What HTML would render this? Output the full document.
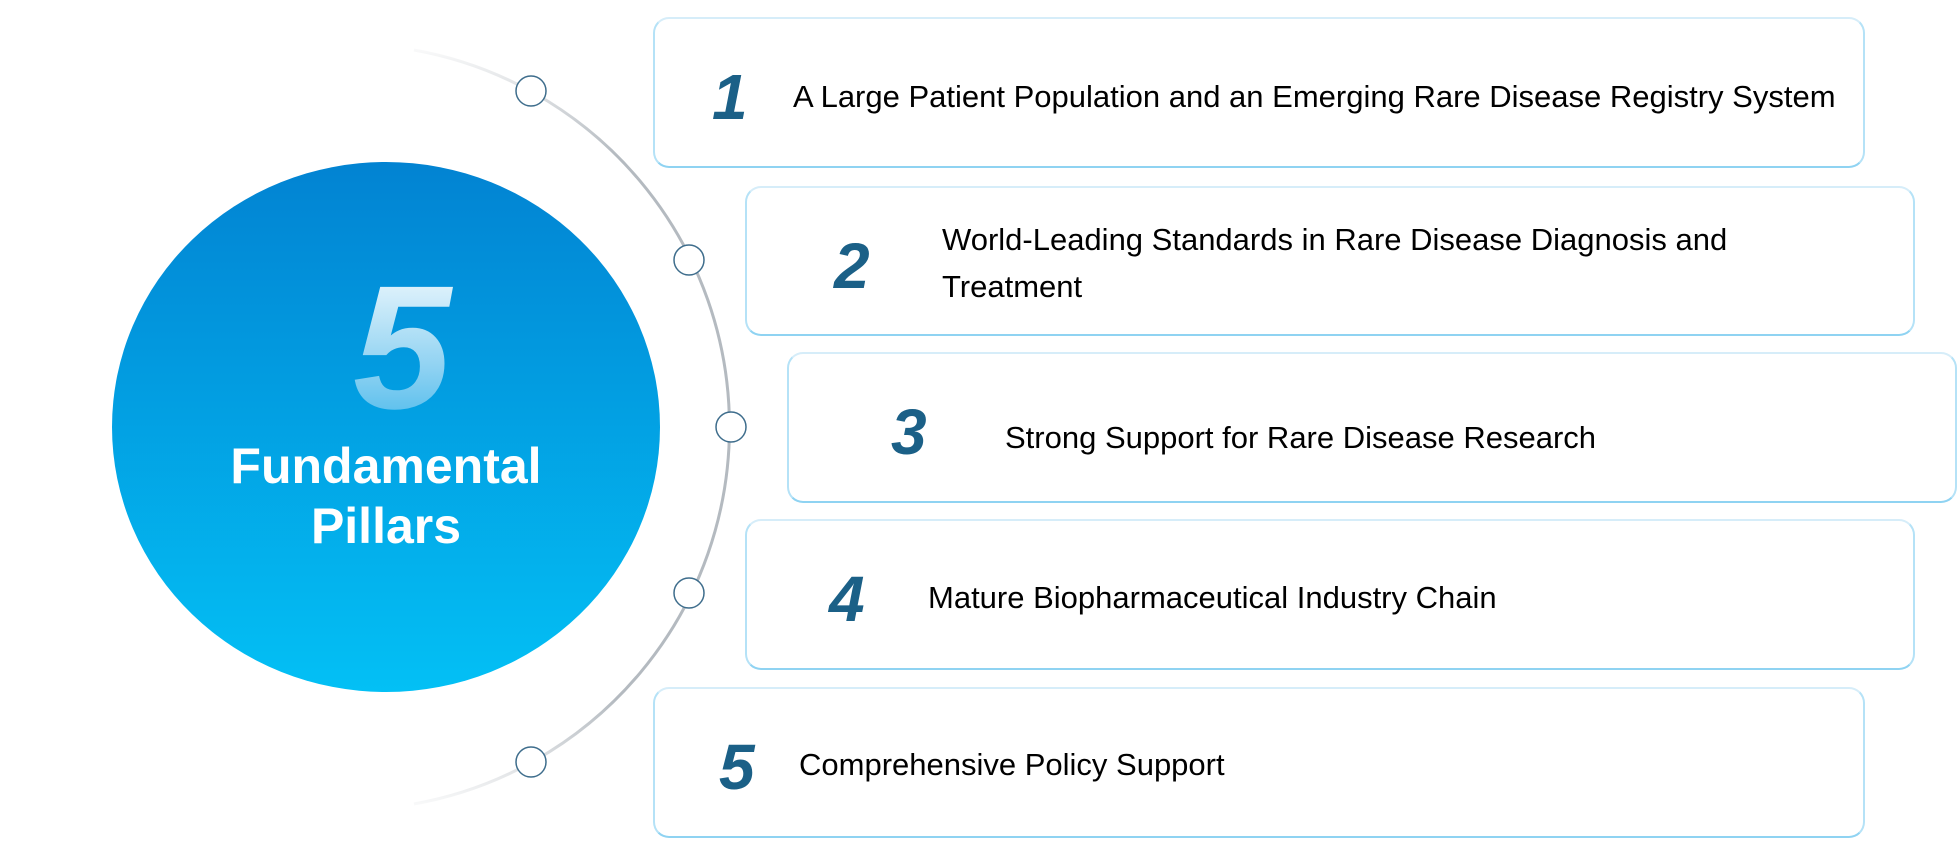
<!DOCTYPE html>
<html><head><meta charset="utf-8"><style>
body{margin:0;width:1958px;height:854px;background:#fff;position:relative;overflow:hidden;font-family:"Liberation Sans",sans-serif}
.box{position:absolute;box-sizing:border-box;border:2px solid #d6edf9;border-bottom-color:#8fd3f2;border-left-color:#b5e2f7;border-right-color:#b5e2f7;border-radius:16px;background:#fff}
.num{position:absolute;font-weight:bold;font-style:italic;color:#1b6087;font-size:64px;line-height:1}
.txt{position:absolute;font-size:31px;color:#000;line-height:47px;white-space:nowrap}
</style></head><body>
<svg width="1958" height="854" style="position:absolute;left:0;top:0">
<defs>
<linearGradient id="g" x1="0" y1="0" x2="0" y2="1"><stop offset="0" stop-color="#0283d2"/><stop offset="1" stop-color="#03c0f5"/></linearGradient>
<linearGradient id="f" x1="0" y1="0" x2="0" y2="1"><stop offset="0" stop-color="#fff"/><stop offset="0.6" stop-color="#8fd2f2"/><stop offset="1" stop-color="#3ab4ea"/></linearGradient>
<linearGradient id="a" gradientUnits="userSpaceOnUse" x1="0" y1="40" x2="0" y2="815"><stop offset="0" stop-color="#b4bac0" stop-opacity="0"/><stop offset="0.15" stop-color="#b4bac0"/><stop offset="0.85" stop-color="#b4bac0"/><stop offset="1" stop-color="#b4bac0" stop-opacity="0"/></linearGradient>
</defs>
<ellipse cx="386" cy="427" rx="274" ry="265" fill="url(#g)"/>
<path d="M 414 50 A 383 383 0 0 1 414 804" fill="none" stroke="url(#a)" stroke-width="3"/>
<g fill="#fff" stroke="#3e6d8c" stroke-width="1.5">
<circle cx="531" cy="91" r="15"/><circle cx="689" cy="260" r="15"/><circle cx="731" cy="427" r="15"/><circle cx="689" cy="593" r="15"/><circle cx="531" cy="762" r="15"/>
</g>
<text x="402" y="408" font-family="Liberation Sans" font-weight="bold" font-style="italic" font-size="176" fill="url(#f)" text-anchor="middle">5</text>
<text x="386" y="483" font-family="Liberation Sans" font-weight="bold" font-size="50" fill="#fff" text-anchor="middle">Fundamental</text>
<text x="386" y="543" font-family="Liberation Sans" font-weight="bold" font-size="50" fill="#fff" text-anchor="middle">Pillars</text>
</svg>
<div class="box" style="left:653px;top:17px;width:1212px;height:151px"></div>
<div class="num" style="left:712px;top:65px">1</div>
<div class="txt" style="left:793px;top:73px">A Large Patient Population and an Emerging Rare Disease Registry System</div>
<div class="box" style="left:745px;top:186px;width:1170px;height:150px"></div>
<div class="num" style="left:834px;top:234px">2</div>
<div class="txt" style="left:942px;top:216px">World-Leading Standards in Rare Disease Diagnosis and<br>Treatment</div>
<div class="box" style="left:787px;top:352px;width:1170px;height:151px"></div>
<div class="num" style="left:891px;top:400px">3</div>
<div class="txt" style="left:1005px;top:414px">Strong Support for Rare Disease Research</div>
<div class="box" style="left:745px;top:519px;width:1170px;height:151px"></div>
<div class="num" style="left:829px;top:567px">4</div>
<div class="txt" style="left:928px;top:574px">Mature Biopharmaceutical Industry Chain</div>
<div class="box" style="left:653px;top:687px;width:1212px;height:151px"></div>
<div class="num" style="left:719px;top:735px">5</div>
<div class="txt" style="left:799px;top:741px">Comprehensive Policy Support</div>
</body></html>
